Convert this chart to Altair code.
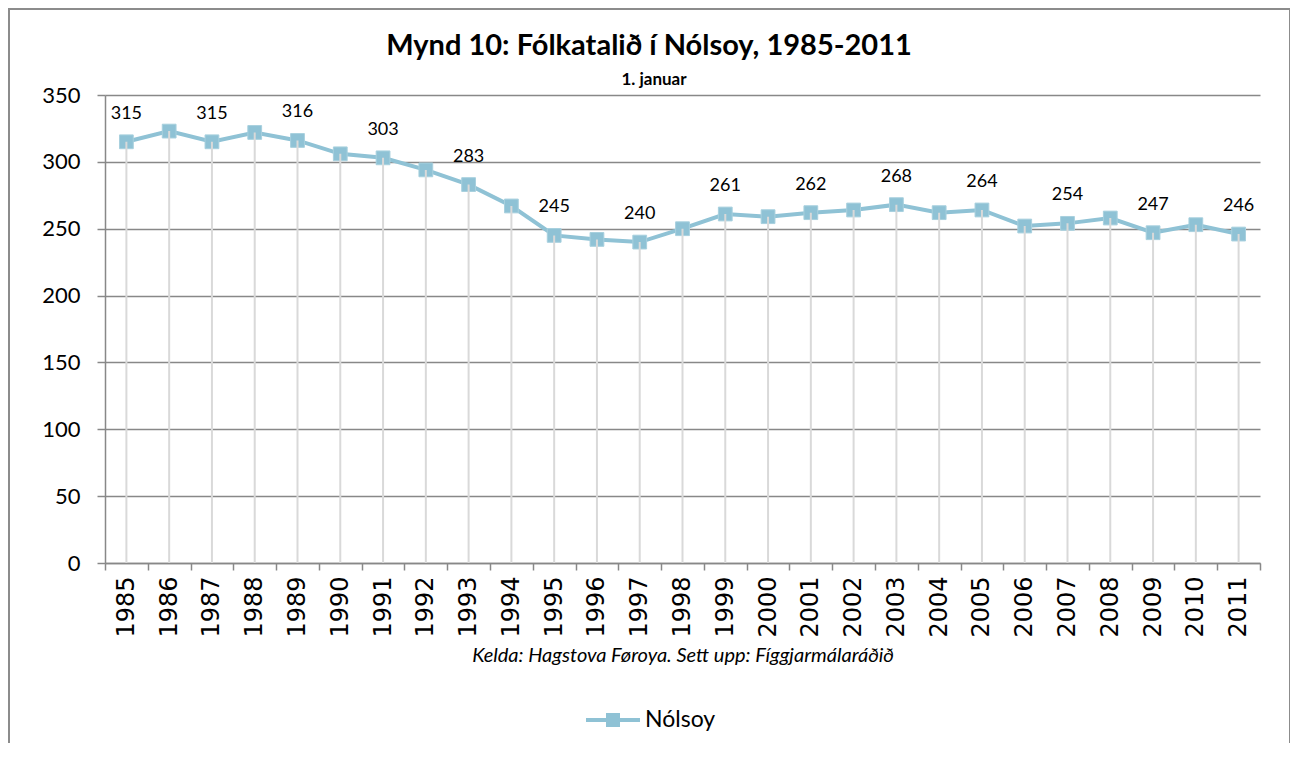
import altair as alt
import pandas as pd

years = [str(y) for y in range(1985, 2012)]
values = [315, 323, 315, 322, 316, 306, 303, 294, 283, 267, 245, 242, 240, 250,
          261, 259, 262, 264, 268, 262, 264, 252, 254, 258, 247, 253, 246]
y_ticks = [0, 50, 100, 150, 200, 250, 300, 350]

df = pd.DataFrame({"year": years, "value": values})
df["label"] = [str(v) if i % 2 == 0 else "" for i, v in enumerate(values)]

W, H = 1155, 468
COL = "#8fc2d5"
FONT = "Lato"

x = alt.X("year:N", sort=years, title=None,
          scale=alt.Scale(paddingInner=0, paddingOuter=0),
          axis=alt.Axis(labelAngle=-90, labelAlign="right", labelBaseline="middle",
                        labelFontSize=24, labelColor="#000", labelPadding=6,
                        tickBand="extent", tickSize=7, tickColor="#888",
                        domainColor="#888", domainWidth=1.5, tickWidth=1.5,
                        grid=False, labelFont="DejaVu Sans"))
y = alt.Y("value:Q", title=None,
          scale=alt.Scale(domain=[0, 350], nice=False),
          axis=alt.Axis(values=y_ticks, labelFontSize=22, labelColor="#000",
                        labelPadding=17, tickSize=8, tickColor="#888",
                        domainColor="#888", domainWidth=1.5, tickWidth=1.5,
                        gridColor="#888", gridWidth=1.5, labelFont=FONT))

base = alt.Chart(df)

line = base.mark_line(color=COL, strokeWidth=4).encode(x=x, y=y)
squares = base.mark_square(color=COL, size=190, opacity=1,
                           stroke="#a8d0de", strokeWidth=1).encode(x=x, y=y)
drops = base.mark_rule(color="#d9d9d9", strokeWidth=2).encode(
    x=x, y=y, y2=alt.datum(0))
labels = base.mark_text(fontSize=18, dy=-28, color="#000", font=FONT).encode(
    x=x, y=y, text="label:N")

one = pd.DataFrame({"a": [1]})

title = alt.Chart(pd.DataFrame({"t": ["Mynd 10: Fólkatalið í Nólsoy, 1985-2011"]})).mark_text(
    fontSize=29, fontWeight="bold", font=FONT, color="#000", align="center", baseline="middle"
).encode(x=alt.value(544), y=alt.value(-49), text="t:N")
subtitle = alt.Chart(pd.DataFrame({"t": ["1. januar"]})).mark_text(
    fontSize=17, fontWeight="bold", font=FONT, color="#000", align="center", baseline="middle"
).encode(x=alt.value(549), y=alt.value(-15), text="t:N")

footnote = alt.Chart(pd.DataFrame({"t": ["Kelda: Hagstova Føroya. Sett upp: Fíggjarmálaráðið"]})).mark_text(
    fontSize=20, fontStyle="italic", font=FONT, color="#000", align="center", baseline="middle"
).encode(x=alt.value(578), y=alt.value(561), text="t:N")

leg_line = alt.Chart(one).mark_rule(color=COL, strokeWidth=4).encode(
    x=alt.value(481), x2=alt.value(535), y=alt.value(625))
leg_sq = alt.Chart(one).mark_square(color=COL, size=196, opacity=1).encode(
    x=alt.value(508), y=alt.value(625))
leg_txt = alt.Chart(pd.DataFrame({"t": ["Nólsoy"]})).mark_text(
    fontSize=23, font=FONT, color="#000", align="left", baseline="middle").encode(
    x=alt.value(540), y=alt.value(625), text="t:N")

border = alt.Chart(one).mark_rect(
    fill=None, stroke="#8c8c8c", strokeWidth=2).encode(
    x=alt.value(-96), x2=alt.value(1185), y=alt.value(-86), y2=alt.value(700))

chart = alt.layer(border, line, squares, drops, labels, title, subtitle,
                  footnote, leg_line, leg_sq, leg_txt).properties(
    width=W, height=H,
    autosize=alt.AutoSizeParams(type="none"),
    padding={"left": 97, "top": 87, "right": 30, "bottom": 180},
).configure_view(stroke=None)

chart.save("out.html", embed_options={"renderer": "svg", "actions": False})
